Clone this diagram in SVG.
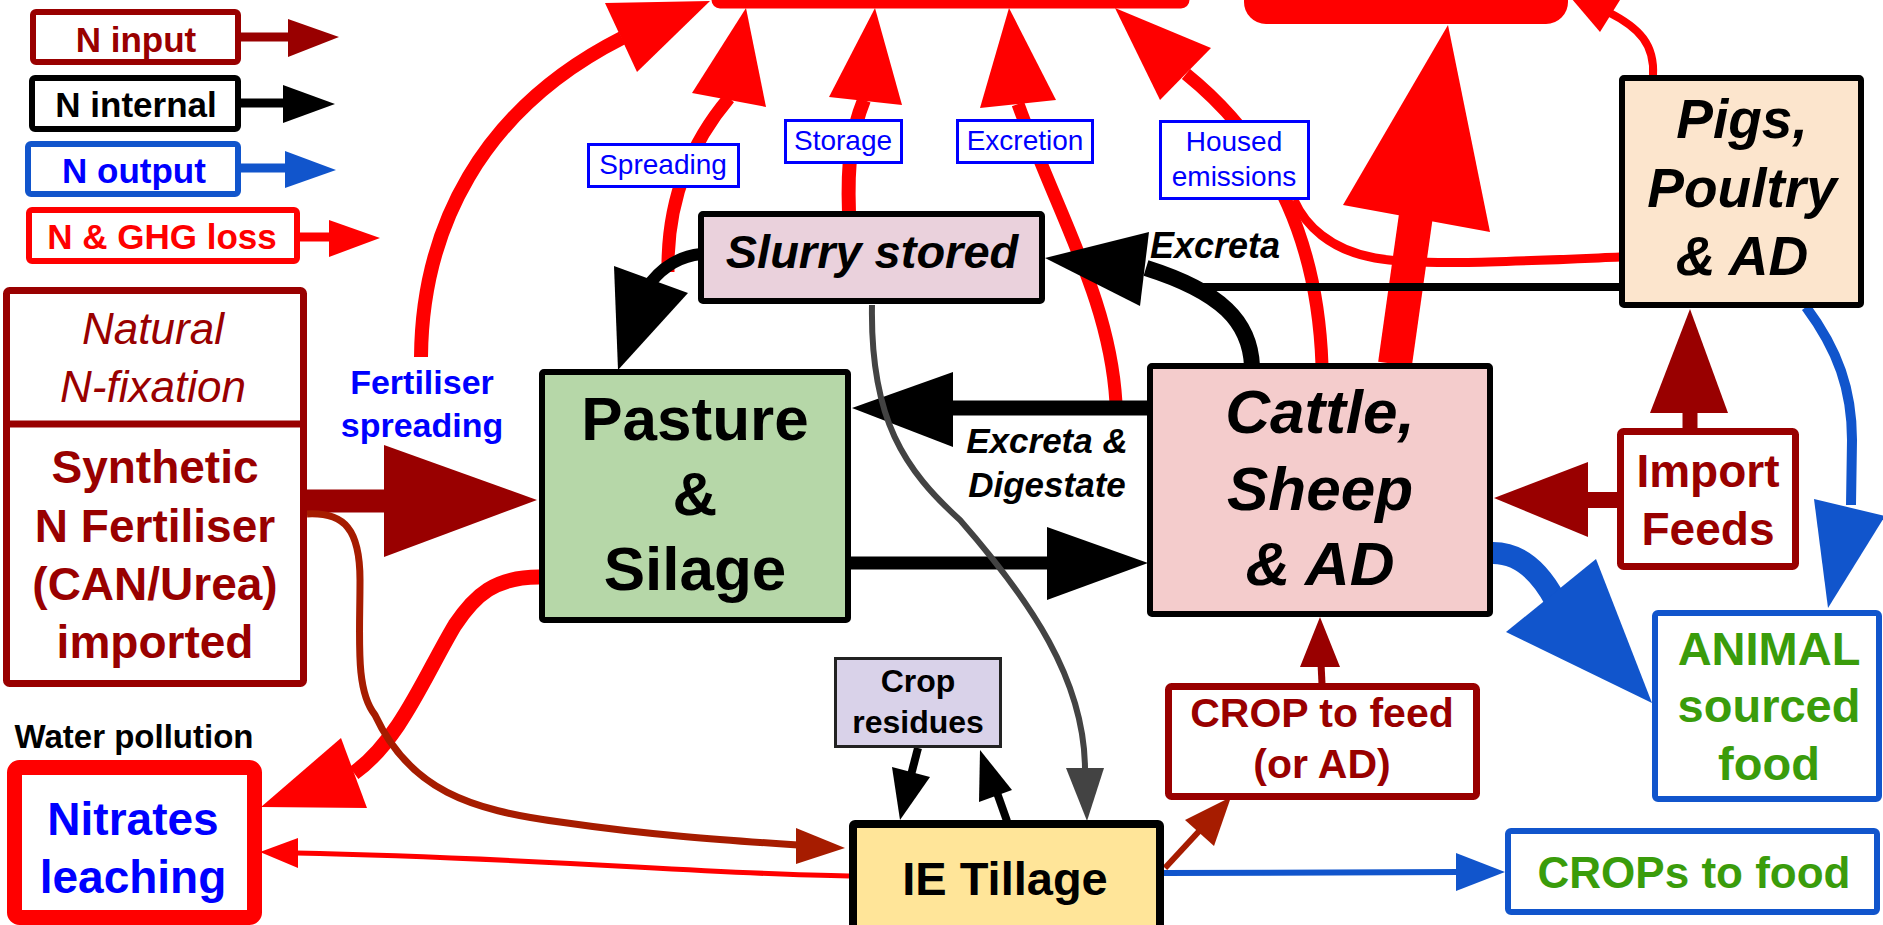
<svg xmlns="http://www.w3.org/2000/svg" width="1883" height="925" viewBox="0 0 1883 925">
<style>
text{font-family:"Liberation Sans",Arial,sans-serif;text-anchor:middle}
.b{font-weight:bold}
.i{font-style:italic}
.bi{font-weight:bold;font-style:italic}
.nd{stroke:#000;stroke-width:6}
.ln{fill:none}
.red{stroke:#FF0000}
.fr{fill:#FF0000}
.blk{stroke:#000}
.fb{fill:#000}
.dr{stroke:#990000}
.fdr{fill:#990000}
.br{stroke:#A61C00}
.fbr{fill:#A61C00}
.bl{stroke:#1155CC}
.fbl{fill:#1155CC}
.gy{stroke:#434343}
.fgy{fill:#434343}
.lab rect{fill:#fff;stroke:#0000FF;stroke-width:3}
.lab text{fill:#0000FF;font-size:28px}
.grn{fill:#3A9C0B}
</style>

<g id="legend">
  <g id="legend-input">
    <rect x="33" y="12" width="205" height="50" rx="3" fill="#fff" stroke="#990000" stroke-width="6"/>
    <text x="136" y="52" class="b" font-size="35" fill="#990000">N input</text>
    <line x1="241" y1="37" x2="292" y2="37" stroke="#990000" stroke-width="9"/>
    <polygon points="339,37 288,19 288,57" fill="#990000"/>
  </g>
  <g id="legend-internal">
    <rect x="32" y="78" width="206" height="51" rx="3" fill="#fff" stroke="#000" stroke-width="6"/>
    <text x="136" y="117" class="b" font-size="35" fill="#000">N internal</text>
    <line x1="241" y1="103" x2="287" y2="103" stroke="#000" stroke-width="9"/>
    <polygon points="335,104 283,85 283,123" fill="#000"/>
  </g>
  <g id="legend-output">
    <rect x="28" y="144" width="210" height="50" rx="3" fill="#fff" stroke="#1155CC" stroke-width="6"/>
    <text x="134" y="183" class="b" font-size="35" fill="#0000FF">N output</text>
    <line x1="241" y1="168" x2="289" y2="168" stroke="#1155CC" stroke-width="9"/>
    <polygon points="336,170 285,151 285,188" fill="#1155CC"/>
  </g>
  <g id="legend-loss">
    <rect x="29" y="210" width="268" height="51" rx="3" fill="#fff" stroke="#FF0000" stroke-width="6"/>
    <text x="162" y="249" class="b" font-size="35" fill="#FF0000">N &amp; GHG loss</text>
    <line x1="300" y1="237" x2="333" y2="237" stroke="#FF0000" stroke-width="9"/>
    <polygon points="380,238 329,220 329,257" fill="#FF0000"/>
  </g>
</g>

<g id="top-boxes">
  <rect id="top-loss-1" x="716" y="-60" width="469" height="64" rx="4" fill="#fff" stroke="#FF0000" stroke-width="9"/>
  <rect id="top-loss-2" x="1256" y="-60" width="300" height="72" rx="10" fill="#fff" stroke="#FF0000" stroke-width="24"/>
</g>

<g id="connectors">
  <!-- red loss arrows -->
  <path class="ln red" stroke-width="14" d="M421,357 C422,230 480,110 622,38"/>
  <polygon class="fr" points="710,1 605,3 637,72"/>
  <path class="ln red" stroke-width="13" d="M668,272 C667,210 685,150 729,98"/>
  <polygon class="fr" points="746,8 692,93 766,107"/>
  <path class="ln red" stroke-width="14" d="M849,213 C847,160 852,130 864,100"/>
  <polygon class="fr" points="875,8 829,97 902,105"/>
  <path class="ln red" stroke-width="13" d="M1116,403 C1110,300 1060,220 1018,104"/>
  <polygon class="fr" points="1009,8 980,108 1056,100"/>
  <path class="ln red" stroke-width="13" d="M1322,365 C1318,250 1280,150 1186,74"/>
  <polygon class="fr" points="1115,8 1160,100 1211,48"/>
  <path class="ln red" stroke-width="9" d="M1620,257 C1500,262 1420,266 1375,258 C1330,250 1305,225 1294,200"/>
  <path class="ln red" stroke-width="34" d="M1395,364 L1416,215"/>
  <polygon class="fr" points="1448,25 1343,205 1490,232"/>
  <path class="ln red" stroke-width="8" d="M1653,76 C1655,45 1640,28 1608,12"/>
  <polygon class="fr" points="1560,-15 1625,-8 1600,32"/>
  <path class="ln red" stroke-width="15" d="M539,577 C495,577 475,595 455,625 C425,675 400,740 354,773"/>
  <polygon class="fr" points="261,807 341,738 367,808"/>
  <path class="ln red" stroke-width="5" d="M849,876 C700,874 550,858 296,853"/>
  <polygon class="fr" points="260,852 298,838 298,868"/>

  <!-- inputs -->
  <line class="dr" x1="305" y1="501" x2="386" y2="501" stroke-width="23"/>
  <polygon class="fdr" points="537,500 384,445 384,557"/>
  <path class="ln br" stroke-width="7" d="M307,514 C345,512 360,530 360,580 C360,640 355,690 375,715 C410,790 470,810 560,822 C650,835 720,840 798,845"/>
  <polygon class="fbr" points="845,848 796,828 796,864"/>
  <line class="dr" x1="1322" y1="684" x2="1321" y2="663" stroke-width="7"/>
  <polygon class="fdr" points="1320,617 1300,667 1340,667"/>
  <line class="dr" x1="1618" y1="500" x2="1585" y2="500" stroke-width="16"/>
  <polygon class="fdr" points="1494,498 1588,462 1588,537"/>
  <line class="dr" x1="1690" y1="429" x2="1690" y2="410" stroke-width="15"/>
  <polygon class="fdr" points="1690,309 1650,413 1728,413"/>
  <line class="br" x1="1165" y1="868" x2="1202" y2="828" stroke-width="6"/>
  <polygon class="fbr" points="1231,797 1185,820 1214,846"/>

  <!-- internal -->
  <path class="ln blk" stroke-width="12" d="M701,254 C682,256 664,266 651,282"/>
  <polygon class="fb" points="618,370 614,266 688,293"/>
  <line class="blk" x1="1150" y1="408" x2="950" y2="408" stroke-width="15"/>
  <polygon class="fb" points="852,408 953,372 953,447"/>
  <line class="blk" x1="848" y1="563" x2="1050" y2="563" stroke-width="13"/>
  <polygon class="fb" points="1148,563 1047,527 1047,600"/>
  <line class="blk" x1="1620" y1="287" x2="1195" y2="287" stroke-width="8"/>
  <path class="ln blk" stroke-width="16" d="M1252,366 C1250,322 1222,292 1146,268"/>
  <polygon class="fb" points="1045,258 1149,232 1140,306"/>
  <line class="blk" x1="918" y1="748" x2="911" y2="775" stroke-width="8"/>
  <polygon class="fb" points="900,820 892,767 930,777"/>
  <line class="blk" x1="1007" y1="821" x2="996" y2="790" stroke-width="8"/>
  <polygon class="fb" points="980,750 979,802 1012,790"/>
  <path class="ln gy" stroke-width="6" d="M872,305 C870,420 905,470 960,520 C1030,600 1085,680 1085,770"/>
  <polygon class="fgy" points="1087,821 1066,768 1104,768"/>

  <!-- outputs -->
  <line class="bl" x1="1163" y1="873" x2="1460" y2="872" stroke-width="6"/>
  <polygon class="fbl" points="1505,872 1456,853 1456,891"/>
  <path class="ln bl" stroke-width="22" d="M1493,553 C1520,553 1540,572 1555,600"/>
  <polygon class="fbl" points="1652,703 1506,632 1596,559"/>
  <path class="ln bl" stroke-width="10" d="M1806,307 C1838,350 1852,390 1852,440 L1851,505"/>
  <polygon class="fbl" points="1828,608 1814,499 1885,516"/>
</g>

<g id="loss-labels">
  <g id="lbl-spreading" class="lab">
    <rect x="588.5" y="144.5" width="150" height="42"/>
    <text x="663" y="174">Spreading</text>
  </g>
  <g id="lbl-storage" class="lab">
    <rect x="785.5" y="120.5" width="116" height="42"/>
    <text x="843" y="150">Storage</text>
  </g>
  <g id="lbl-excretion" class="lab">
    <rect x="957.5" y="120.5" width="135" height="42"/>
    <text x="1025" y="150">Excretion</text>
  </g>
  <g id="lbl-housed" class="lab">
    <rect x="1160.5" y="121.5" width="148" height="77"/>
    <text x="1234" y="151">Housed</text>
    <text x="1234" y="186">emissions</text>
  </g>
</g>

<g id="flow-labels">
  <text x="422" y="394" class="b" font-size="34" fill="#0000FF">Fertiliser</text>
  <text x="422" y="437" class="b" font-size="34" fill="#0000FF">spreading</text>
  <text x="1047" y="453" class="bi" font-size="35">Excreta &amp;</text>
  <text x="1047" y="497" class="bi" font-size="35">Digestate</text>
  <text x="1150" y="258" class="bi" font-size="36" style="text-anchor:start">Excreta</text>
</g>

<g id="node-fixation">
  <rect x="6.5" y="290.5" width="297" height="393" rx="3" fill="#fff" stroke="#990000" stroke-width="7"/>
  <line x1="4" y1="424" x2="306" y2="424" stroke="#990000" stroke-width="7"/>
  <text x="153" y="344" class="i" font-size="44" fill="#990000">Natural</text>
  <text x="153" y="402" class="i" font-size="44" fill="#990000">N-fixation</text>
  <text x="155" y="483" class="b" font-size="46" fill="#990000">Synthetic</text>
  <text x="155" y="542" class="b" font-size="46" fill="#990000">N Fertiliser</text>
  <text x="155" y="600" class="b" font-size="46" fill="#990000">(CAN/Urea)</text>
  <text x="155" y="658" class="b" font-size="46" fill="#990000">imported</text>
</g>

<g id="node-slurry">
  <rect class="nd" x="701" y="214" width="341" height="87" rx="2" fill="#EAD1DC"/>
  <text x="872" y="268" class="bi" font-size="47">Slurry stored</text>
</g>

<g id="node-pasture">
  <rect class="nd" x="542" y="372" width="306" height="248" rx="2" fill="#B6D7A8"/>
  <text x="695" y="440" class="b" font-size="62">Pasture</text>
  <text x="695" y="515" class="b" font-size="62">&amp;</text>
  <text x="695" y="590" class="b" font-size="62">Silage</text>
</g>

<g id="node-cattle">
  <rect class="nd" x="1150" y="366" width="340" height="248" rx="2" fill="#F4CCCC"/>
  <text x="1320" y="433" class="bi" font-size="62">Cattle,</text>
  <text x="1320" y="510" class="bi" font-size="62">Sheep</text>
  <text x="1320" y="585" class="bi" font-size="62">&amp; AD</text>
</g>

<g id="node-pigs">
  <rect class="nd" x="1622" y="78" width="239" height="227" rx="2" fill="#FCE5CD"/>
  <text x="1742" y="138" class="bi" font-size="55">Pigs,</text>
  <text x="1742" y="207" class="bi" font-size="55">Poultry</text>
  <text x="1742" y="275" class="bi" font-size="55">&amp; AD</text>
</g>

<g id="node-import">
  <rect x="1620.5" y="431.5" width="175" height="135" rx="3" fill="#fff" stroke="#990000" stroke-width="7"/>
  <text x="1708" y="487" class="b" font-size="46" fill="#990000">Import</text>
  <text x="1708" y="545" class="b" font-size="46" fill="#990000">Feeds</text>
</g>

<g id="node-animal">
  <rect x="1655" y="613" width="224" height="186" rx="3" fill="#fff" stroke="#1155CC" stroke-width="6"/>
  <text x="1769" y="665" class="b grn" font-size="47">ANIMAL</text>
  <text x="1769" y="722" class="b grn" font-size="47">sourced</text>
  <text x="1769" y="780" class="b grn" font-size="47">food</text>
</g>

<g id="node-cropfeed">
  <rect x="1168.5" y="686.5" width="308" height="110" rx="3" fill="#fff" stroke="#990000" stroke-width="7"/>
  <text x="1322" y="727" class="b" font-size="41" fill="#990000">CROP to feed</text>
  <text x="1322" y="778" class="b" font-size="41" fill="#990000">(or AD)</text>
</g>

<g id="node-residues">
  <rect x="835.5" y="658.5" width="165" height="88" fill="#D9D2E9" stroke="#222" stroke-width="3"/>
  <text x="918" y="692" class="b" font-size="32">Crop</text>
  <text x="918" y="733" class="b" font-size="32">residues</text>
</g>

<g id="node-tillage">
  <rect x="853" y="824" width="307" height="110" rx="2" fill="#FFE599" stroke="#000" stroke-width="8"/>
  <text x="1005" y="895" class="b" font-size="47">IE Tillage</text>
</g>

<g id="node-cropfood">
  <rect x="1508" y="831" width="369" height="81" rx="3" fill="#fff" stroke="#1155CC" stroke-width="6"/>
  <text x="1694" y="888" class="b grn" font-size="44">CROPs to food</text>
</g>

<g id="node-nitrates">
  <text x="134" y="748" class="b" font-size="33" fill="#000">Water pollution</text>
  <rect x="14.5" y="767.5" width="240" height="150" rx="5" fill="#fff" stroke="#FF0000" stroke-width="15"/>
  <text x="133" y="835" class="b" font-size="46" fill="#0000FF">Nitrates</text>
  <text x="133" y="893" class="b" font-size="46" fill="#0000FF">leaching</text>
</g>
</svg>
